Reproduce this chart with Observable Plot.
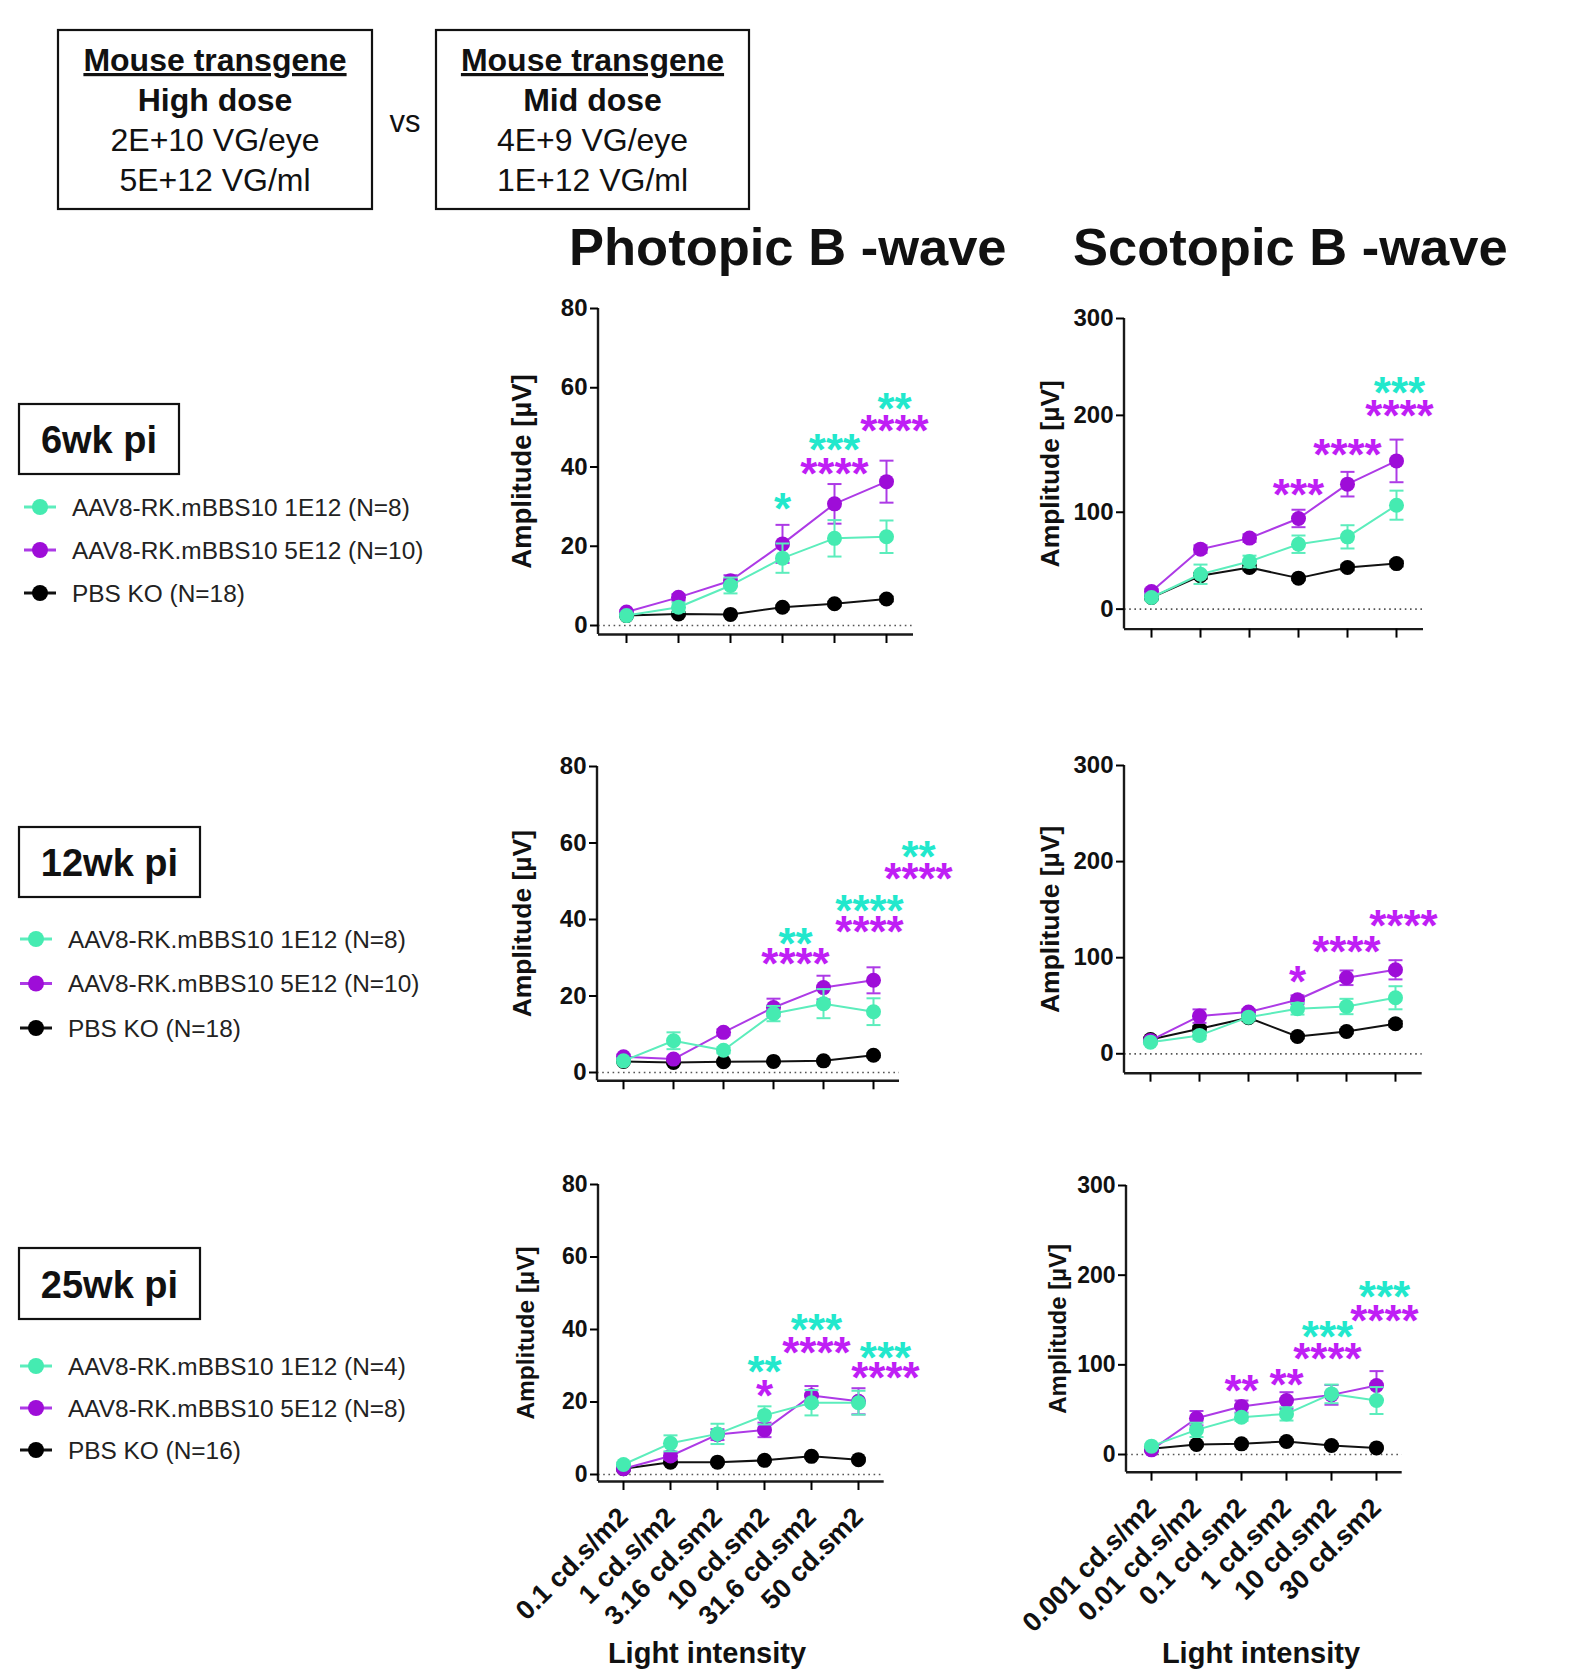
<!DOCTYPE html>
<html><head><meta charset="utf-8">
<script src="https://cdn.jsdelivr.net/npm/d3@7"></script>
<script src="https://cdn.jsdelivr.net/npm/@observablehq/plot@0.6"></script>
<style>
html,body{margin:0;padding:0;background:#fff;}
#root{position:relative;width:1596px;height:1672px;overflow:hidden;font-family:"Liberation Sans",Arial,sans-serif;}
</style></head><body><div id="root"></div>
<script>
// ---------- DATA ----------
const photopicLevels = ["0.1 cd.s/m2","1 cd.s/m2","3.16 cd.sm2","10 cd.sm2","31.6 cd.sm2","50 cd.sm2"];
const scotopicLevels = ["0.001 cd.s/m2","0.01 cd.s/m2","0.1 cd.sm2","1 cd.sm2","10 cd.sm2","30 cd.sm2"];
const photopicTicks = [0,20,40,60,80];
const scotopicTicks = [0,100,200,300];
const seriesLabels = ["AAV8-RK.mBBS10 1E12", "AAV8-RK.mBBS10 5E12", "PBS KO"];
const legendN6 = [8,10,18];
const legendN12 = [8,10,18];
const legendN25 = [4,8,16];

// 6 wk photopic
const p6Low = [2.5,4.6,10.1,17.0,22.0,22.4];   const p6LowSem = [0.5,1.2,2.0,3.7,4.6,4.1];
const p6High = [3.4,7.1,11.3,20.6,30.7,36.3];  const p6HighSem = [0.5,0.8,1.4,4.8,5.0,5.3];
const p6Pbs = [2.5,2.9,2.8,4.6,5.5,6.7];       const p6PbsSem = [0.3,0.4,0.3,0.5,0.5,0.6];
// 6 wk scotopic
const s6Low = [12,36,49.2,67,74.6,107.3];      const s6LowSem = [3,10,6,9,12,15];
const s6High = [18.2,61.9,73.3,93.6,129,153];  const s6HighSem = [3,4,4,9,12.7,22];
const s6Pbs = [12,34.4,43,32,43,47];           const s6PbsSem = [2,3,3,2,3,3];
// 12 wk photopic
const p12Low = [3.05,8.3,5.8,15.4,18.0,15.9];  const p12LowSem = [0.6,2.2,0.8,2.0,3.8,3.5];
const p12High = [4.1,3.5,10.5,17.0,22.2,24.1]; const p12HighSem = [0.6,0.6,0.8,2.3,3.1,3.4];
const p12Pbs = [2.9,2.6,2.8,2.9,3.05,4.5];     const p12PbsSem = [0.3,0.3,0.3,0.3,0.3,0.5];
// 12 wk scotopic
const s12Low = [12.1,19.1,38.1,46.8,49.2,58.3]; const s12LowSem = [2,4,3,6,8,12];
const s12High = [13.9,39.2,43.4,56.2,79.1,87.4]; const s12HighSem = [2,7,3,4.5,7.6,10];
const s12Pbs = [14.9,26,37.5,18,23.2,31.2];     const s12PbsSem = [2,3,3,2,2,3];
// 25 wk photopic
const p25Low = [2.76,8.6,11.2,16.3,19.8,19.8];  const p25LowSem = [0.5,2.2,2.8,2.5,3.5,3.3];
const p25High = [1.6,5.1,11.0,12.3,21.8,20.2];  const p25HighSem = [0.4,1.0,1.5,2.0,2.6,3.6];
const p25Pbs = [1.6,3.4,3.4,3.9,5.0,4.1];       const p25PbsSem = [0.3,0.4,0.4,0.4,0.5,0.4];
// 25 wk scotopic
const s25Low = [9.3,27.5,41.6,45.3,67.6,60.2];  const s25LowSem = [2,8,4,7.4,10.4,15];
const s25High = [5.2,40.5,53.5,60.2,66.5,77];   const s25HighSem = [2,8,6.7,9.3,11,16];
const s25Pbs = [6.3,11.2,11.9,14.5,10,7.4];     const s25PbsSem = [1.5,2,2,2,1.5,1.5];

// significance annotations (level, group, text, height in µV)
const p6Stars = [
  {level:"10 cd.sm2", group:"low", text:"*", y:31},
  {level:"31.6 cd.sm2", group:"low", text:"***", y:45.8},
  {level:"31.6 cd.sm2", group:"high", text:"****", y:39.7},
  {level:"50 cd.sm2", group:"low", text:"**", y:56.2},
  {level:"50 cd.sm2", group:"high", text:"****", y:50.6}
];
const s6Stars = [
  {level:"1 cd.sm2", group:"high", text:"***", y:124},
  {level:"10 cd.sm2", group:"high", text:"****", y:165},
  {level:"30 cd.sm2", group:"low", text:"***", y:229},
  {level:"30 cd.sm2", group:"high", text:"****", y:206}
];
const p12Stars = [
  {level:"10 cd.sm2", group:"low", text:"**", y:35.1},
  {level:"10 cd.sm2", group:"high", text:"****", y:29.9},
  {level:"31.6 cd.sm2", group:"low", text:"****", y:43.7},
  {level:"31.6 cd.sm2", group:"high", text:"****", y:38.2},
  {level:"50 cd.sm2", group:"low", text:"**", y:58},
  {level:"50 cd.sm2", group:"high", text:"****", y:52.3}
];
const s12Stars = [
  {level:"1 cd.sm2", group:"high", text:"*", y:81.5},
  {level:"10 cd.sm2", group:"high", text:"****", y:112.7},
  {level:"30 cd.sm2", group:"high", text:"****", y:139.4}
];
const p25Stars = [
  {level:"10 cd.sm2", group:"low", text:"**", y:29.9},
  {level:"10 cd.sm2", group:"high", text:"*", y:23.4},
  {level:"31.6 cd.sm2", group:"low", text:"***", y:41.6},
  {level:"31.6 cd.sm2", group:"high", text:"****", y:35.3},
  {level:"50 cd.sm2", group:"low", text:"***", y:33.7},
  {level:"50 cd.sm2", group:"high", text:"****", y:28.4}
];
const s25Stars = [
  {level:"0.1 cd.sm2", group:"high", text:"**", y:77.7},
  {level:"1 cd.sm2", group:"high", text:"**", y:84.4},
  {level:"10 cd.sm2", group:"low", text:"***", y:138.3},
  {level:"10 cd.sm2", group:"high", text:"****", y:113},
  {level:"30 cd.sm2", group:"low", text:"***", y:183},
  {level:"30 cd.sm2", group:"high", text:"****", y:156}
];

// ---------- STYLE / LAYOUT ----------
const COLORS = {
  low:  {dot:"#45EBB1", line:"#5CEDBC", star:"#22E8CC"},
  high: {dot:"#9E0DD8", line:"#AD3AE6", star:"#BF1EF5"},
  pbs:  {dot:"#000000", line:"#111111", star:"#000000"}
};
const FONT = '"Liberation Sans", Arial, Helvetica, sans-serif';
const root = document.getElementById("root");

// horizontal-bar symbol for error-bar caps
const capSymbol = {
  draw(context, size) {
    const r = Math.sqrt(size / Math.PI);
    context.moveTo(-r, 0);
    context.lineTo(r, 0);
  }
};

// overlay svg for boxes, titles and legends
const over = d3.select(root).append("svg")
  .attr("width",1596).attr("height",1672)
  .style("position","absolute").style("left","0px").style("top","0px")
  .style("font-family", FONT);

function txt(x, y, s, size, weight, anchor, extra) {
  const t = over.append("text").attr("x",x).attr("y",y).text(s)
    .attr("font-size",size).attr("font-weight",weight||"normal")
    .attr("text-anchor",anchor||"start").attr("fill","#111");
  if (extra) extra(t);
  return t;
}

// header boxes
function headerBox(x, y, w, h, lines) {
  over.append("rect").attr("x",x).attr("y",y).attr("width",w).attr("height",h)
    .attr("fill","none").attr("stroke","#111").attr("stroke-width",2.2);
  const cx = x + w/2;
  const base = [71, 111, 151, 191];
  lines.forEach((s,i) => {
    const t = txt(cx, base[i], s, 32, i<2 ? "bold":"normal", "middle");
    if (i === 0) t.attr("text-decoration","underline");
  });
}
headerBox(58, 30, 314, 179, ["Mouse transgene","High dose","2E+10 VG/eye","5E+12 VG/ml"]);
headerBox(436, 30, 313, 179, ["Mouse transgene","Mid dose","4E+9 VG/eye","1E+12 VG/ml"]);
txt(405, 132, "vs", 31, "normal", "middle");

// titles
txt(569, 265, "Photopic B -wave", 52.5, "bold", "start");
txt(1073, 265, "Scotopic B -wave", 52.5, "bold", "start");

// axis titles
txt(707, 1663, "Light intensity", 29, "bold", "middle");
txt(1261, 1663, "Light intensity", 29, "bold", "middle");

// legends
function legendBlock(bx, by, bw, bh, label, rowsY, mx, tx, ns) {
  over.append("rect").attr("x",bx).attr("y",by).attr("width",bw).attr("height",bh)
    .attr("fill","none").attr("stroke","#111").attr("stroke-width",2.2);
  txt(bx + bw/2, by + bh/2 + 14, label, 38, "bold", "middle");
  const keys = ["low","high","pbs"];
  keys.forEach((k,i) => {
    const y = rowsY[i];
    over.append("line").attr("x1",mx-16).attr("x2",mx+16).attr("y1",y).attr("y2",y)
      .attr("stroke",COLORS[k].line).attr("stroke-width",3);
    over.append("circle").attr("cx",mx).attr("cy",y).attr("r",8).attr("fill",COLORS[k].dot);
    txt(tx, y + 8.5, `${seriesLabels[i]} (N=${ns[i]})`, 24.4, "normal", "start", t => t.attr("fill","#222"));
  });
}
legendBlock(19, 404, 160, 70, "6wk pi", [507, 550, 593], 40, 72, legendN6);
legendBlock(19, 827, 181, 70, "12wk pi", [939, 983.5, 1028], 36, 68, legendN12);
legendBlock(19, 1248, 181, 71, "25wk pi", [1366, 1408, 1450], 36, 68, legendN25);

// ---------- PANELS ----------
function yAxisLine(index, scales, values, dims) {
  const el = document.createElementNS("http://www.w3.org/2000/svg","line");
  el.setAttribute("x1", dims.marginLeft); el.setAttribute("x2", dims.marginLeft);
  el.setAttribute("y1", dims.marginTop); el.setAttribute("y2", dims.height - dims.marginBottom);
  el.setAttribute("stroke","#1a1a1a"); el.setAttribute("stroke-width", 2.4);
  return el;
}

function makePanel(cfg) {
  const g = cfg.geom;
  const ml = 110, mr = 90, mt = 40, mb = cfg.showLabels ? 185 : 20;
  const width = ml + (g.right - g.axisX) + mr;
  const height = mt + (g.base - g.top) + mb;
  const marks = [
    Plot.ruleY([0], {stroke:"#555", strokeWidth:1.7, strokeDasharray:"1.6,3.6"}),
    Plot.ruleY([g.ymin], {stroke:"#1a1a1a", strokeWidth:2.4}),
    yAxisLine,
    Plot.axisY({ticks: cfg.yTicks, tickSize: 8, tickPadding: 3, strokeWidth: 2, fontSize: g.tickFont,
      fontWeight: "bold", fill: "#111", label: null, tickFormat: d => String(d)}),
    cfg.showLabels
      ? Plot.axisX({tickSize: 9, strokeWidth: 2, label: null, tickRotate: -45, tickPadding: 22,
          fontSize: 27, fontWeight: "bold", fill: "#111"})
      : Plot.axisX({tickSize: 9, strokeWidth: 2, label: null, tickFormat: () => ""}),
    Plot.text(["Amplitude [µV]"], {frameAnchor:"left", textAnchor:"middle", rotate:-90, dx: g.labelDx,
      fontSize: g.labelFont, fontWeight:"bold", fill:"#111"})
  ];
  for (const key of ["pbs","high","low"]) {
    const s = cfg.series[key], c = COLORS[key];
    const rows = cfg.levels.map((lv,i) => ({level: lv, v: s[0][i], e: s[1][i]}));
    marks.push(
      Plot.line(rows, {x:"level", y:"v", stroke:c.line, strokeWidth:2}),
      Plot.ruleX(rows, {x:"level", y1: r => r.v - r.e, y2: r => r.v + r.e, stroke:c.line, strokeWidth:2}),
      Plot.dot(rows, {x:"level", y: r => r.v + r.e, symbol: capSymbol, r: 7, stroke:c.line, strokeWidth:2, fill:"none"}),
      Plot.dot(rows, {x:"level", y: r => r.v - r.e, symbol: capSymbol, r: 7, stroke:c.line, strokeWidth:2, fill:"none"}),
      Plot.dot(rows, {x:"level", y:"v", r:7.5, fill:c.dot})
    );
  }
  for (const st of cfg.stars) {
    marks.push(Plot.text([st], {x:"level", y:"y", text:"text", fill: COLORS[st.group].star,
      fontSize: 44, fontWeight: "bold", dy: 7, dx: (cfg.nudge[st.level] || 0)}));
  }
  const chart = Plot.plot({
    width, height, marginLeft: ml, marginRight: mr, marginTop: mt, marginBottom: mb,
    x: {type:"point", domain: cfg.levels, padding: 0.5, label: null},
    y: {domain: [g.ymin, cfg.ymax], label: null},
    marks
  });
  chart.style.position = "absolute";
  chart.style.left = (g.axisX - ml) + "px";
  chart.style.top = (g.top - mt) + "px";
  chart.style.background = "transparent";
  chart.style.overflow = "visible";
  chart.style.maxWidth = "none";
  chart.style.fontFamily = FONT;
  root.appendChild(chart);
}

const panels = [
  {levels: photopicLevels, yTicks: photopicTicks, ymax: 80, stars: p6Stars, nudge: {"50 cd.sm2": 8},
   series: {low:[p6Low,p6LowSem], high:[p6High,p6HighSem], pbs:[p6Pbs,p6PbsSem]},
   geom: {axisX:598, top:308, base:634, right:913, ymin:-2.27, tickFont:24, labelDx:-76, labelFont:27.5}},
  {levels: scotopicLevels, yTicks: scotopicTicks, ymax: 300, stars: s6Stars, nudge: {"30 cd.sm2": 3},
   series: {low:[s6Low,s6LowSem], high:[s6High,s6HighSem], pbs:[s6Pbs,s6PbsSem]},
   geom: {axisX:1124, top:317.7, base:628.3, right:1423, ymin:-20.6, tickFont:24, labelDx:-74, labelFont:26.5}},
  {levels: photopicLevels, yTicks: photopicTicks, ymax: 80, stars: p12Stars,
   nudge: {"10 cd.sm2": 22, "31.6 cd.sm2": 46, "50 cd.sm2": 45},
   series: {low:[p12Low,p12LowSem], high:[p12High,p12HighSem], pbs:[p12Pbs,p12PbsSem]},
   geom: {axisX:596.7, top:765.7, base:1080, right:898.7, ymin:-2.17, tickFont:24, labelDx:-75, labelFont:26.5}},
  {levels: scotopicLevels, yTicks: scotopicTicks, ymax: 300, stars: s12Stars, nudge: {"30 cd.sm2": 8},
   series: {low:[s12Low,s12LowSem], high:[s12High,s12HighSem], pbs:[s12Pbs,s12PbsSem]},
   geom: {axisX:1124.3, top:765, base:1072.7, right:1422, ymin:-20.2, tickFont:24, labelDx:-74, labelFont:26.5}},
  {levels: photopicLevels, yTicks: photopicTicks, ymax: 80, stars: p25Stars,
   nudge: {"31.6 cd.sm2": 5, "50 cd.sm2": 27},
   series: {low:[p25Low,p25LowSem], high:[p25High,p25HighSem], pbs:[p25Pbs,p25PbsSem]}, showLabels: true,
   geom: {axisX:598.3, top:1184, base:1481, right:884, ymin:-1.93, tickFont:23, labelDx:-72, labelFont:24.5}},
  {levels: scotopicLevels, yTicks: scotopicTicks, ymax: 300, stars: s25Stars, nudge: {"10 cd.sm2": -4, "30 cd.sm2": 8},
   series: {low:[s25Low,s25LowSem], high:[s25High,s25HighSem], pbs:[s25Pbs,s25PbsSem]}, showLabels: true,
   geom: {axisX:1126, top:1185, base:1471.7, right:1401.7, ymin:-19.7, tickFont:23, labelDx:-68, labelFont:24}}
];
panels.forEach(makePanel);
</script></body></html>
